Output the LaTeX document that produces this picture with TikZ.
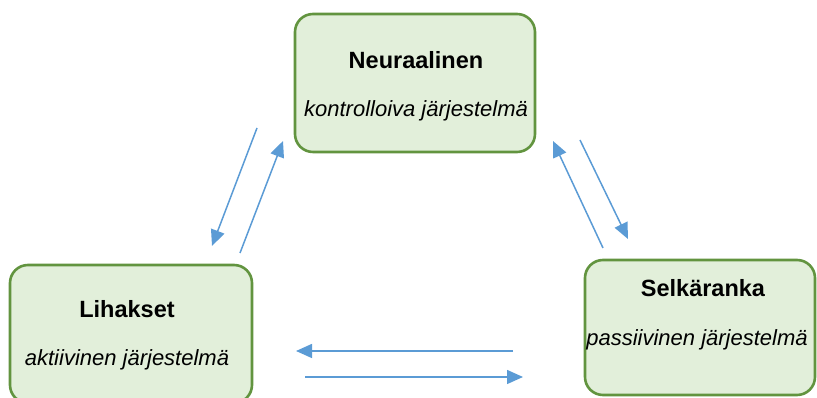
\documentclass[tikz,border=0pt]{standalone}
\usepackage{fontspec}
\setmainfont{Liberation Sans}
\usetikzlibrary{arrows.meta, positioning, calc}
\definecolor{sysfill}{HTML}{E2EFDA}
\definecolor{sysedge}{HTML}{62943F}
\definecolor{linkblue}{HTML}{5B9BD5}

\begin{document}
\begin{tikzpicture}[
  x=1pt, y=1pt,
  sys/.style={
    draw=sysedge, line width=2.6pt, fill=sysfill,
    rounded corners=18pt, inner sep=0pt},
  title/.style={anchor=base, font=\fontsize{23.5}{28}\selectfont\bfseries},
  sub/.style={anchor=base, font=\fontsize{22}{26}\selectfont\itshape},
  link/.style={-{Triangle[length=16pt, width=14pt]}, line width=1.5pt, linkblue},
]
  \useasboundingbox (0,0) rectangle (817,398);

  %% Systems
  \node[sys, minimum width=240pt, minimum height=138pt] (neur) at (415,315) {};
  \node[sys, minimum width=242pt, minimum height=138pt] (lih) at (131,64) {};
  \node[sys, minimum width=230pt, minimum height=135pt] (selk) at (700,70.5) {};

  \node[title] (neurT) at ($(neur.north)+(1,-56)$) {Neuraalinen};
  \node[sub] (neurS) at ($(neur.north)+(1,-104)$) {kontrolloiva järjestelmä};
  \node[title] (lihT) at ($(lih.north)+(-4,-54)$) {Lihakset};
  \node[sub] (lihS) at ($(lih.north)+(-4,-102)$) {aktiivinen järjestelmä};
  \node[title] (selkT) at ($(selk.north)+(3,-38)$) {Selkäranka};
  \node[sub] (selkS) at ($(selk.north)+(-3,-87)$) {passiivinen järjestelmä};

  %% Arrow ends
  \coordinate (nl1) at (257,270);  \coordinate (ln1) at (212,152);
  \coordinate (ln2) at (240,145);  \coordinate (nl2) at (283,257);
  \coordinate (sn1) at (603,150);  \coordinate (ns1) at (553,257);
  \coordinate (ns2) at (580,258);  \coordinate (sn2) at (628,159);
  \coordinate (sl1) at (513,47);   \coordinate (ls1) at (296,47);
  \coordinate (ls2) at (305,21);   \coordinate (sl2) at (523,21);

  %% Links
  \foreach \s/\t in {nl1/ln1, ln2/nl2, sn1/ns1, ns2/sn2, sl1/ls1, ls2/sl2}
    \draw[link] (\s) -- (\t);
\end{tikzpicture}
\end{document}
